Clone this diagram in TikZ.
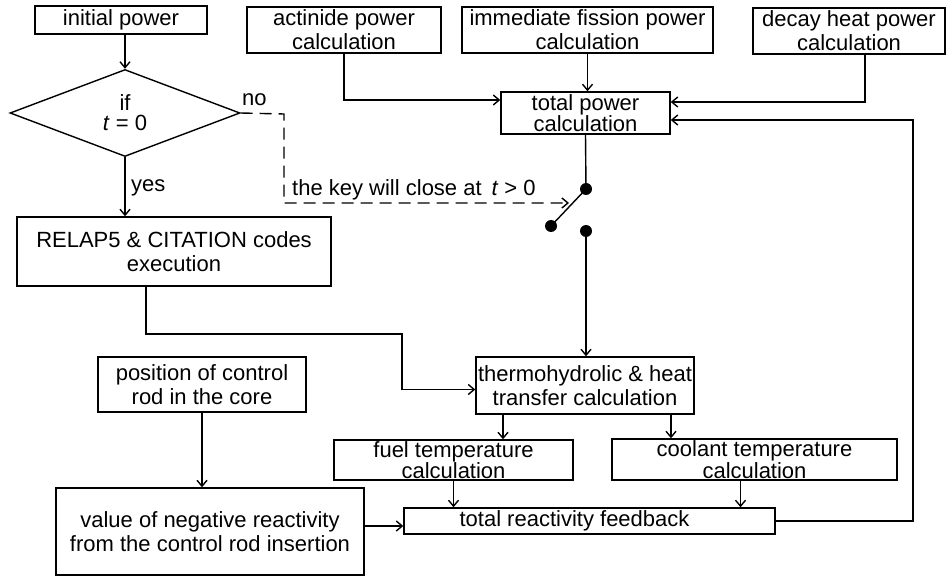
\documentclass[tikz,border=0pt]{standalone}
\usepackage{fontspec}
\setmainfont{Liberation Sans}
\usetikzlibrary{arrows.meta,shapes.geometric,calc}
\begin{document}
\begin{tikzpicture}[x=1pt,y=-1pt,
  every node/.style={font=\fontsize{22}{24}\selectfont},
  box/.style={draw,line width=1.4pt,inner sep=0pt,align=center,rectangle},
  tight/.style={font=\fontsize{22}{18}\selectfont},
  ln/.style={line width=1.4pt},
  arr/.style={ln,-{Straight Barb[length=6pt,width=10pt]}},
  dsh/.style={arr,dash pattern=on 12pt off 7pt},
  swdot/.style={circle,fill,inner sep=0pt,minimum size=12pt}
]
\useasboundingbox (0,0) rectangle (952,577);

% boxes
\node[box,minimum width=172pt,minimum height=28pt] (init) at (121,20) {initial power};
\node[draw,diamond,ln,shape aspect=2.6,minimum width=230pt,minimum height=87pt,inner sep=0pt,align=center,font=\fontsize{22}{20}\selectfont] (dia) at (125,113) {if\\\textit{t} = 0};
\node[box,minimum width=314pt,minimum height=69pt] (rel) at (174,251.5) {RELAP5 \& CITATION codes\\execution};
\node[box,minimum width=194pt,minimum height=46pt] (act) at (344,30) {actinide power\\calculation};
\node[box,minimum width=251pt,minimum height=46pt] (imm) at (587.5,30) {immediate fission power\\calculation};
\node[box,minimum width=192pt,minimum height=46pt] (dec) at (849,31) {decay heat power\\calculation};
\node[box,tight,minimum width=169pt,minimum height=42pt] (tp) at (585.5,113) {total power\\calculation};
\node[box,minimum width=218pt,minimum height=57pt] (th) at (585,385.5) {thermohydrolic \& heat\\transfer calculation};
\node[box,minimum width=208pt,minimum height=55pt] (pos) at (202,384.5) {position of control\\rod in the core};
\node[box,minimum width=308pt,minimum height=87pt] (val) at (210,531.5) {value of negative reactivity\\from the control rod insertion};
\node[box,tight,minimum width=239pt,minimum height=40pt] (fuel) at (453.5,460) {fuel temperature\\calculation};
\node[box,tight,minimum width=285pt,minimum height=41pt] (cool) at (754.5,459.5) {coolant temperature\\calculation};
\node[box,minimum width=371pt,minimum height=26pt] (trf) at (589.5,521) {total reactivity feedback\hspace*{30pt}};

% switch
\node[swdot] (st) at (586,189) {};
\node[swdot] (sl) at (551,226) {};
\node[swdot] (sb) at (586,231) {};
\coordinate (keytip) at (569,203);
\coordinate (nocorner) at (284,114);
\coordinate (relc) at (402,334);
\coordinate (fbx) at (913,0);

% labels
\node[anchor=base west,inner sep=0pt] (lno) at (242,106) {no};
\node[anchor=base west,inner sep=0pt] (lyes) at (131,192) {yes};
\node[anchor=base west,inner sep=0pt] (lkey) at (292,196) {the key will close at \,\textit{t} > 0};

% connectors
\draw[arr] (dia.north |- init.south) -- (dia.north);
\draw[arr] (dia.south) -- (dia.south |- rel.north);
\draw[dsh] (dia.east) -- (nocorner) |- (keytip);
\draw[arr] (act.south) |- ([yshift=13pt]tp.west);
\draw[arr] (imm.south) -- (imm.south |- tp.north);
\draw[arr] ([xshift=16pt]dec.south) |- ([yshift=11pt]tp.east);
\draw[ln] (tp.south) -- (st.center);
\draw[ln] (sl.center) -- (st.center);
\draw[arr] (sb.center) -- (sb.center |- th.north);
\draw[arr] ([xshift=-28pt]rel.south) |- (relc) |- ([yshift=-4pt]th.west);
\draw[arr] (pos.south) -- (pos.south |- val.north);
\draw[arr] ([xshift=-82pt]th.south) -- ([xshift=-82pt]th.south |- fuel.north);
\draw[arr] ([xshift=86pt]th.south) -- ([xshift=86pt]th.south |- cool.north);
\draw[arr] (fuel.south) -- (fuel.south |- trf.north);
\draw[arr] ([xshift=-14pt]cool.south) -- ([xshift=-14pt]cool.south |- trf.north);
\draw[arr] ([yshift=-5pt]trf.west -| val.east) -- ([yshift=-5pt]trf.west);
\draw[arr] (trf.east) -- (trf.east -| fbx) |- ([yshift=-7pt]tp.east);
\end{tikzpicture}
\end{document}
